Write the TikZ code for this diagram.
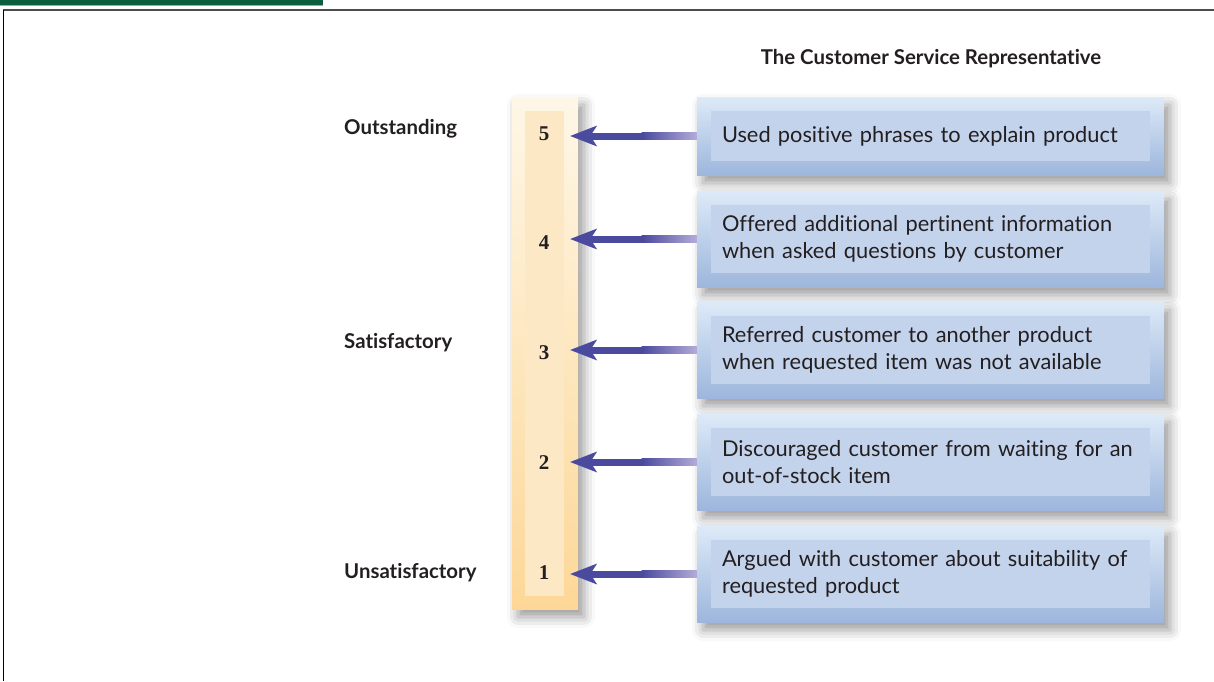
\documentclass[tikz,border=0pt]{standalone}
\usepackage{fontspec}
\setmainfont{Lato}[Ligatures=NoCommon]
\newfontfamily\numfont{Liberation Serif}
\usetikzlibrary{shadows.blur,calc}
\definecolor{greenbar}{HTML}{0C5E3E}
\definecolor{greenline}{HTML}{8FB3A2}
\definecolor{framegray}{HTML}{4D4D4D}
\definecolor{barTop}{HTML}{FEF7E7}
\definecolor{barBot}{HTML}{FDD797}
\definecolor{barIn}{HTML}{FDE8C5}
\definecolor{boxTop}{HTML}{DDEAF8}
\definecolor{boxBot}{HTML}{9DB6DC}
\definecolor{boxIn}{HTML}{C4D3EC}
\definecolor{arrowDark}{HTML}{4A4A9E}
\definecolor{arrowLight}{HTML}{B4ABD9}
\definecolor{txt}{HTML}{231F20}
\begin{document}
\begin{tikzpicture}[x=1pt,y=-1pt,
  outerbox/.style={draw=none, top color=boxTop, bottom color=boxBot, minimum width=467pt, inner sep=0pt,
    blur shadow={shadow xshift=6pt, shadow yshift=-8pt, shadow blur radius=11pt, shadow opacity=40}},
  innerbox/.style={fill=boxIn, text width=417pt, inner xsep=11pt, inner ysep=0pt, align=left,
    font=\fontsize{21.8}{26.5}\selectfont, text=txt},
  numlabel/.style={font=\numfont\bfseries\fontsize{21}{21}\selectfont, text=txt},
  ratelabel/.style={anchor=west, font=\bfseries\fontsize{20.4}{20.4}\selectfont, text=txt, inner sep=0pt},
]
\useasboundingbox (0,0) rectangle (1214,681);
% header and frame
\fill[greenbar] (0,0) rectangle (323,5);
\fill[greenline] (0,5) rectangle (323,6);
\draw[framegray, line width=1.8pt] (3,10) -- (1214,10);
\draw[black, line width=1pt] (3,10) -- (3,681);
% title
\node[font=\bfseries\fontsize{20.4}{20.4}\selectfont, text=txt] (title) at (931,59) {The Customer Service Representative};
% scale bar
\node[draw=none, top color=barTop, bottom color=barBot, minimum width=66pt, minimum height=512pt, inner sep=0pt,
  blur shadow={shadow xshift=6pt, shadow yshift=-8pt, shadow blur radius=11pt, shadow opacity=40}] (bar) at (545,353) {};
\node[fill=barIn, minimum width=39pt, minimum height=485pt, inner sep=0pt] (barin) at (544.5,353.5) {};
% numbers
\foreach \i/\y in {5/134,4/243,3/353,2/463,1/573}
  \node[numlabel] (n\i) at (544,\y) {\i};
% rating labels
\node[ratelabel] (l5) at (344,129) {Outstanding};
\node[ratelabel] (l3) at (344,343) {Satisfactory};
\node[ratelabel] (l1) at (344,573) {Unsatisfactory};
% boxes
\foreach \i/\y/\h/\t in {
  5/136/50/{Used positive phrases to explain product},
  4/239/68/{Offered additional pertinent information\\when asked questions by customer},
  3/350/68/{Referred customer to another product\\when requested item was not available},
  2/462/68/{Discouraged customer from waiting for an\\out-of-stock item},
  1/574/68/{Argued with customer about suitability of\\requested product}} {
  \node[outerbox, minimum height=\h pt + 28pt] (b\i) at (930.5,\y) {};
  \node[innerbox, minimum height=\h pt] (t\i) at (930.5,\y) {\t};
}
% arrows
\foreach \i in {5,4,3,2,1} {
  \coordinate (tip\i) at ($(bar.east |- b\i.west)+(-8,0)$);
  \fill[arrowDark] ($(tip\i)+(20,-3.5)$) rectangle ($(tip\i)+(72,3.5)$);
  \shade[left color=arrowDark, right color=arrowLight] ($(tip\i)+(71.5,-3.5)$) rectangle ($(b\i.west)+(0,3.5)$);
  \fill[arrowDark] (tip\i) -- ++(27,-10.5) -- ++(-7,10.5) -- ++(7,10.5) -- cycle;
}
\end{tikzpicture}
\end{document}
